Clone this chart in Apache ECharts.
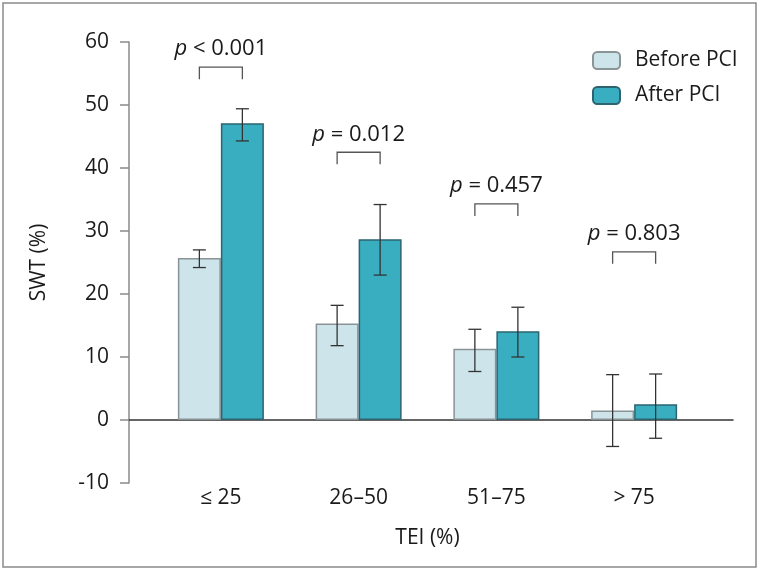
<!DOCTYPE html>
<html>
<head>
<meta charset="utf-8">
<script src="https://cdn.jsdelivr.net/npm/echarts@6/dist/echarts.min.js"></script>
<style>
html,body{margin:0;padding:0;background:#fff;}
#chart{width:762px;height:572px;}
</style>
</head>
<body>
<div id="chart"></div>
<script>
// ---- data ----
const categories = ['\u2264 25', '26\u201350', '51\u201375', '> 75'];
const seriesNames = ['Before PCI', 'After PCI'];
const beforeValues = [25.7, 15.3, 11.3, 1.5];
const afterValues = [47.1, 28.7, 14.1, 2.5];
const beforeErrLow = [24.2, 11.8, 7.7, -4.2];
const beforeErrHigh = [27.0, 18.2, 14.4, 7.2];
const afterErrLow = [44.3, 23.0, 10.0, -2.9];
const afterErrHigh = [49.4, 34.2, 17.9, 7.3];
const pLabels = ['< 0.001', '= 0.012', '= 0.457', '= 0.803'];
const bracketLevels = [56.0, 42.5, 34.3, 26.7];
const yTicks = { min: -10, max: 60, interval: 10 };

// ---- style ----
const FONT = 'Open Sans';
const FS = 21;
const PFS = 22;
const BAR_W = 43;
const CAP_W = 13;
const LEG_PX = 12;
const beforeColor = '#cde4ea', beforeBorder = '#8a9396';
const afterColor = '#3aaec1', afterBorder = '#2d6470';

function errSeries(name, lows, highs, sign) {
  return {
    type: 'custom',
    name: name + ' err',
    xAxisIndex: 0, yAxisIndex: 0,
    z: 5,
    silent: true,
    data: lows.map((l, i) => [i, l, highs[i]]),
    renderItem: function (params, api) {
      const lo = api.coord([api.value(0), api.value(1)]);
      const hi = api.coord([api.value(0), api.value(2)]);
      const x = lo[0] + sign * BAR_W / 2;
      const st = { stroke: '#333', lineWidth: 1.3, fill: null };
      return {
        type: 'group',
        children: [
          { type: 'line', shape: { x1: x, y1: lo[1], x2: x, y2: hi[1] }, style: st },
          { type: 'line', shape: { x1: x - CAP_W / 2, y1: lo[1], x2: x + CAP_W / 2, y2: lo[1] }, style: st },
          { type: 'line', shape: { x1: x - CAP_W / 2, y1: hi[1], x2: x + CAP_W / 2, y2: hi[1] }, style: st }
        ]
      };
    }
  };
}

const option = {
  animation: false,
  backgroundColor: '#fff',
  textStyle: { fontFamily: FONT },
  graphic: [{
    type: 'rect', shape: { x: 3, y: 3, width: 753, height: 564 },
    style: { fill: null, stroke: '#8a8a8a', lineWidth: 1.5 }, silent: true
  }],
  legend: {
    data: seriesNames,
    orient: 'vertical',
    left: 592, top: 50, padding: 0,
    itemWidth: 27, itemHeight: 17, itemGap: 14,
    textStyle: { fontSize: FS, color: '#1a1a1a', fontFamily: FONT, lineHeight: 20, padding: [0, 0, 0, 10] }
  },
  grid: [
    { left: 152, right: 59, top: 42, bottom: 89 },
    { left: 129, right: 29, top: 42, bottom: 89 }
  ],
  xAxis: [
    {
      type: 'category', gridIndex: 0, data: categories,
      axisLine: { show: false, onZero: false },
      axisTick: { show: false },
      axisLabel: { fontSize: FS, color: '#1a1a1a', margin: 5, fontFamily: FONT },
      name: 'TEI (%)', nameLocation: 'middle', nameGap: 45,
      nameTextStyle: { fontSize: FS, color: '#1a1a1a', fontFamily: FONT }
    },
    {
      type: 'value', gridIndex: 1, min: 0, max: 1,
      axisLine: { show: true, onZero: true, lineStyle: { color: '#333', width: 1.5 } },
      axisTick: { show: false }, axisLabel: { show: false }, splitLine: { show: false }
    }
  ],
  yAxis: [
    {
      type: 'value', gridIndex: 0,
      min: yTicks.min, max: yTicks.max, interval: yTicks.interval,
      offset: 23,
      axisLine: { show: true, lineStyle: { color: '#8a8a8a', width: 1.5 } },
      axisTick: { show: true, length: 9, lineStyle: { color: '#8a8a8a', width: 1.5 } },
      splitLine: { show: false },
      axisLabel: { fontSize: FS, color: '#1a1a1a', margin: 20, fontFamily: FONT },
      name: 'SWT (%)', nameLocation: 'middle', nameGap: 79,
      nameTextStyle: { fontSize: FS, color: '#1a1a1a', fontFamily: FONT }
    },
    {
      type: 'value', gridIndex: 1, min: yTicks.min, max: yTicks.max, show: false
    }
  ],
  series: [
    {
      type: 'bar', name: seriesNames[0], data: beforeValues,
      xAxisIndex: 0, yAxisIndex: 0,
      barWidth: BAR_W, barGap: '0%',
      itemStyle: { color: beforeColor, borderColor: beforeBorder, borderWidth: 1.5 }
    },
    {
      type: 'bar', name: seriesNames[1], data: afterValues,
      xAxisIndex: 0, yAxisIndex: 0,
      barWidth: BAR_W, barGap: '0%',
      itemStyle: { color: afterColor, borderColor: afterBorder, borderWidth: 1.5 }
    },
    errSeries(seriesNames[0], beforeErrLow, beforeErrHigh, -1),
    errSeries(seriesNames[1], afterErrLow, afterErrHigh, 1),
    {
      type: 'custom', name: 'brackets',
      xAxisIndex: 0, yAxisIndex: 0, z: 6, silent: true,
      data: bracketLevels.map((b, i) => [i, b]),
      renderItem: function (params, api) {
        const i = params.dataIndex;
        const p = api.coord([api.value(0), api.value(1)]);
        const x1 = p[0] - BAR_W / 2, x2 = p[0] + BAR_W / 2, y = p[1];
        return {
          type: 'group',
          children: [
            {
              type: 'polyline',
              shape: { points: [[x1, y + LEG_PX], [x1, y], [x2, y], [x2, y + LEG_PX]] },
              style: { stroke: '#555', lineWidth: 1.3, fill: null }
            },
            {
              type: 'text',
              style: {
                text: '{i|p} ' + pLabels[i],
                x: p[0], y: y - 18,
                align: 'center', verticalAlign: 'middle',
                fill: '#1a1a1a', fontSize: PFS, fontFamily: FONT,
                rich: { i: { fontStyle: 'italic', fontSize: PFS, fontFamily: FONT, fill: '#1a1a1a' } }
              }
            }
          ]
        };
      }
    }
  ]
};

const chart = echarts.init(document.getElementById('chart'), null, { renderer: 'canvas' });
chart.setOption(option);
</script>
</body>
</html>
